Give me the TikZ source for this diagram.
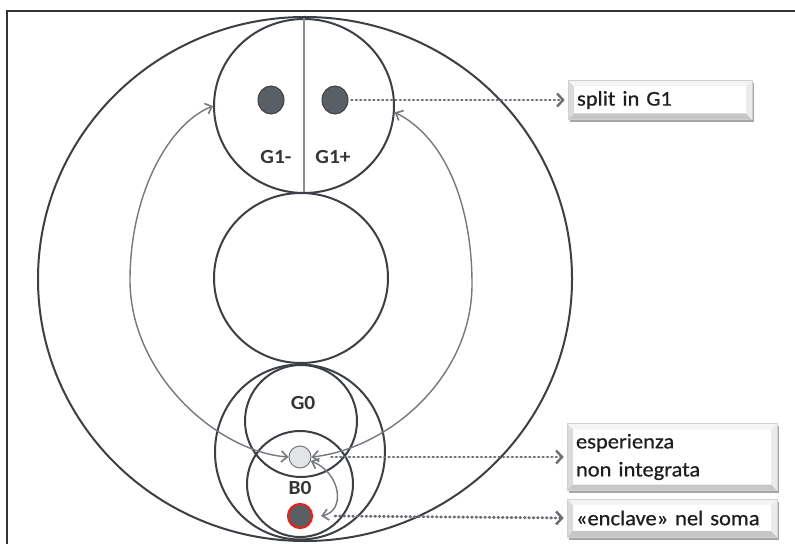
\documentclass[tikz,border=0pt]{standalone}
\usepackage{fontspec}
\setmainfont{Carlito}[WordSpace=0.75,FakeStretch=1.07]
\newfontfamily\boxfont{Carlito}[WordSpace=0.75,FakeStretch=1.07,FakeBold=0.6]
\usetikzlibrary{shapes.geometric,arrows.meta,shadows}
\definecolor{ln}{HTML}{3C3F44}
\definecolor{arcg}{HTML}{75787D}
\definecolor{dotl}{HTML}{6A6D72}
\definecolor{dotg}{HTML}{5A5E65}
\definecolor{lite}{HTML}{E2E4E8}
\definecolor{redr}{HTML}{E3241D}
\definecolor{txt}{HTML}{1E1E1E}
\definecolor{frm}{HTML}{333333}
\begin{document}
\begin{tikzpicture}[x=1bp,y=-1bp,
  ring/.style={ellipse,draw=ln,line width=2bp,inner sep=0pt},
  blob/.style={ellipse,inner sep=0pt,minimum width=26bp,minimum height=28bp,fill=dotg,draw=ln,line width=1bp},
  lbl/.style={font=\fontsize{20bp}{24bp}\selectfont\bfseries,text=txt!90,inner sep=0pt},
  link/.style={draw=arcg,line width=1.4bp,{Straight Barb[length=6bp,width=11bp,line width=1.6bp]}-{Straight Barb[length=6bp,width=11bp,line width=1.6bp]}},
  dotlink/.style={draw=dotl,line width=2.8bp,line cap=round,dash pattern=on 0.8bp off 3.6bp,shorten >=3bp,-{Straight Barb[length=6bp,width=13bp,line width=2.4bp]}},
  btn/.style={rectangle,fill=white,draw=black!18,line width=0.6bp,inner xsep=9bp,inner ysep=0pt,align=left,text=txt,
    font=\boxfont\fontsize{21bp}{28bp}\selectfont,
    drop shadow={shadow xshift=1.5bp,shadow yshift=-2.5bp,opacity=0.35,fill=black},
    path picture={
      \fill[black!14] (path picture bounding box.north west) -- (path picture bounding box.south west)
        -- ([shift={(6bp,6bp)}]path picture bounding box.south west) -- ([shift={(6bp,-6bp)}]path picture bounding box.north west) -- cycle;
      \fill[black!22] (path picture bounding box.south west) -- (path picture bounding box.south east)
        -- ([shift={(-6bp,6bp)}]path picture bounding box.south east) -- ([shift={(6bp,6bp)}]path picture bounding box.south west) -- cycle;
      \fill[black!4] (path picture bounding box.north west) -- (path picture bounding box.north east)
        -- ([shift={(-6bp,-6bp)}]path picture bounding box.north east) -- ([shift={(6bp,-6bp)}]path picture bounding box.north west) -- cycle;
      \fill[black!8] (path picture bounding box.north east) -- (path picture bounding box.south east)
        -- ([shift={(-6bp,6bp)}]path picture bounding box.south east) -- ([shift={(-6bp,-6bp)}]path picture bounding box.north east) -- cycle;
    }},
]
\useasboundingbox (0,0) rectangle (795,544);
\fill[white] (0,0) rectangle (795,544);
\draw[frm,line width=1.3bp] (7,544) -- (7,11) -- (795,11);

% circles
\node[ring,minimum width=534bp,minimum height=524bp] (outer) at (305,279) {};
\node[ring,minimum width=180bp,minimum height=174bp] (g1) at (304,106) {};
\draw[black!45,line width=2bp] (g1.north) -- (g1.south);
\node[ring,minimum width=174bp,minimum height=170bp] (mid) at (301,278) {};
\node[ring,minimum width=170bp,minimum height=175bp] (low) at (300,452) {};
\node[ring,minimum size=112bp] (g0c) at (301,421) {};
\node[ring,minimum size=106bp] (b0c) at (300,484) {};

% dots
\node[blob] (dl) at (271,100) {};
\node[blob] (dr) at (335,100) {};
\node[circle,minimum size=22bp,inner sep=0pt,fill=lite,draw=arcg,line width=1bp] (exp) at (300,457) {};
\node[circle,minimum size=24bp,inner sep=0pt,fill=dotg,draw=redr,line width=2.2bp] (encl) at (300,516) {};

% labels
\node[lbl] (lgm) at (276,157) {G1-};
\node[lbl] (lgp) at (333,157) {G1+};
\node[lbl] (lg0) at (303,403) {G0};
\node[lbl] (lb0) at (300,488) {B0};

% boxes
\node[btn,minimum width=184bp,minimum height=39bp,text width=166bp] (bx1) at (660,100) {split in G1};
\node[btn,minimum width=210bp,minimum height=67bp,text width=192bp] (bx2) at (672,457) {esperienza\\non integrata};
\node[btn,minimum width=210bp,minimum height=38bp,text width=192bp] (bx3) at (672,518) {«enclave» nel soma};

% gray arcs
\coordinate (lc) at (130,280);
\coordinate (rc) at (472,284);
\draw[link] (g1.west) .. controls +(-45,18) and +(0,-85) .. (lc) .. controls +(0,95) and +(-70,-5) .. (exp.west);
\draw[link] (g1.-4) .. controls +(50,25) and +(0,-80) .. (rc) .. controls +(0,95) and +(75,-8) .. (exp.east);
\draw[link] (exp.-20) .. controls +(30,12) and +(25,-5) .. ([xshift=8bp]encl.east);

% dotted arrows
\draw[dotlink] ([xshift=3bp]dr.east) -- (bx1.west);
\draw[dotlink] ([xshift=20bp]exp.east) -- (bx2.west);
\draw[dotlink] ([xshift=22bp]encl.east) -- (bx3.west);
\end{tikzpicture}
\end{document}
